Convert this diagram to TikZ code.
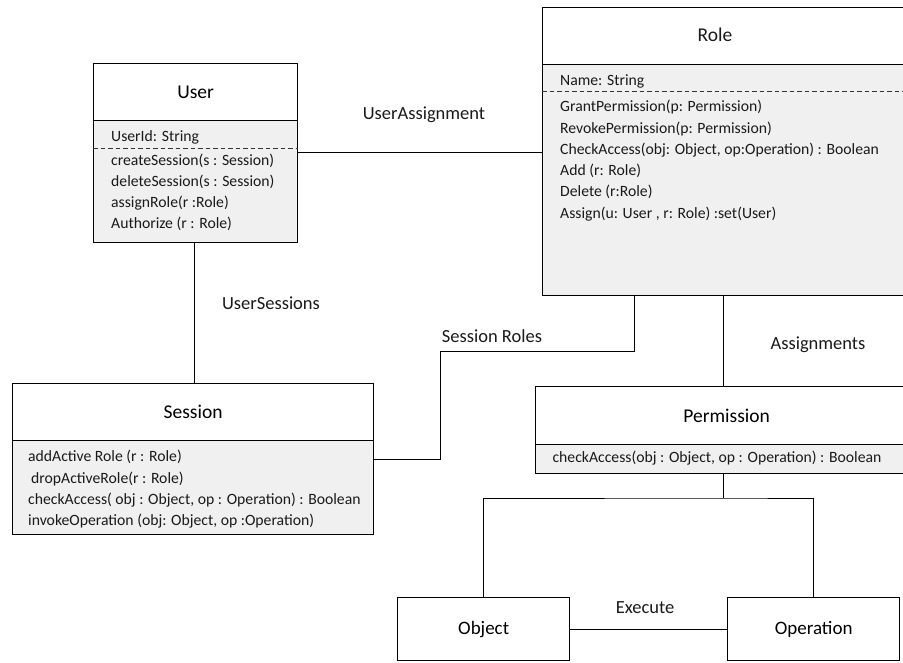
\documentclass[tikz,border=0pt]{standalone}
\usepackage{fontspec}
\setmainfont{Carlito}
\begin{document}
\begin{tikzpicture}[x=1pt,y=-1pt,
  boxline/.style={draw=black, line width=1.3pt, rectangle, inner sep=0pt, anchor=north west},
  hdr/.style={boxline, fill=white, font=\fontsize{19.5}{22}\selectfont},
  cmp/.style={boxline, fill=compfill},
  leaf/.style={boxline, fill=white, font=\fontsize{19}{22}\selectfont},
  txt/.style={inner sep=0pt, anchor=west, text=textcol, font=\fontsize{15.7}{18}\selectfont},
  ttl/.style={inner sep=0pt, text=textcol, font=\fontsize{19.5}{22}\selectfont},
  lbl/.style={inner sep=0pt, text=textcol, font=\fontsize{18.5}{21}\selectfont},
  conn/.style={draw=black, line width=1pt},
  dashline/.style={draw=black!80, line width=1pt, dash pattern=on 4.5pt off 3pt}
]
\definecolor{compfill}{HTML}{F0F0F0}
\definecolor{textcol}{HTML}{1A1A1A}
\useasboundingbox (0,0) rectangle (903,662);
\clip (0,0) rectangle (903,662);
\fill[white] (0,0) rectangle (903,662);

% reference coordinates for connector rows and columns
\coordinate (uaY) at (0,152);
\coordinate (usX) at (194,0);
\coordinate (srY) at (0,459);
\coordinate (srBend) at (440,351);
\coordinate (srX) at (634,0);
\coordinate (asX) at (723,0);
\coordinate (fork) at (723,498);
\coordinate (udY) at (0,148);
\coordinate (rdY) at (0,91);

% ---- User class ----
\node[hdr, minimum width=204pt, minimum height=57pt] (userH) at (93,63) {User};
\node[cmp, minimum width=204pt, minimum height=122pt] (userB) at (93,120) {};
\node[txt] (u0) at (111,137) {UserId: String};
\node[txt] (u1) at (111,161) {createSession(s : Session)};
\node[txt] (u2) at (111,182) {deleteSession(s : Session)};
\node[txt] (u3) at (111,203) {assignRole(r :Role)};
\node[txt] (u4) at (111,224) {Authorize (r : Role)};
\draw[dashline] (userB.west |- udY) -- (userB.east |- udY);

% ---- Role class ----
\node[boxline, fill=white, minimum width=363pt, minimum height=57pt] (roleH) at (542,7) {};
\node[ttl] (roleT) at (715,35) {Role};
\node[cmp, minimum width=363pt, minimum height=231pt] (roleB) at (542,64) {};
\node[txt] (r0) at (560,81) {Name: String};
\node[txt] (r1) at (560,107) {GrantPermission(p: Permission)};
\node[txt] (r2) at (560,129) {RevokePermission(p: Permission)};
\node[txt] (r3) at (560,150) {CheckAccess(obj: Object, op:Operation) : Boolean};
\node[txt] (r4) at (560,171) {Add (r: Role)};
\node[txt] (r5) at (560,192) {Delete (r:Role)};
\node[txt] (r6) at (560,214) {Assign(u: User , r: Role) :set(User)};
\draw[dashline] (roleB.west |- rdY) -- (roleB.east |- rdY);

% ---- Session class ----
\node[hdr, minimum width=361pt, minimum height=57pt] (sessH) at (12,383) {Session};
\node[cmp, minimum width=361pt, minimum height=94pt] (sessB) at (12,440) {};
\node[txt] (s1) at (28,457) {addActive Role (r : Role)};
\node[txt] (s2) at (31,479) {dropActiveRole(r : Role)};
\node[txt] (s3) at (28,500) {checkAccess( obj : Object, op : Operation) : Boolean};
\node[txt] (s4) at (28,521) {invokeOperation (obj: Object, op :Operation)};

% ---- Permission class ----
\node[hdr, minimum width=382pt, minimum height=58pt] (permH) at (535,386) {Permission};
\node[cmp, minimum width=382pt, minimum height=29pt] (permB) at (535,444) {};
\node[txt, anchor=center] (p1) at (717,458) {checkAccess(obj : Object, op : Operation) : Boolean};

% ---- Object and Operation ----
\node[leaf, minimum width=172pt, minimum height=63pt] (objN) at (397,597) {Object};
\node[leaf, minimum width=172pt, minimum height=63pt] (opN) at (727,597) {Operation};

% ---- associations ----
\draw[conn] (userB.east |- uaY) -- (roleB.west |- uaY);
\draw[conn] (userB.south -| usX) -- (sessH.north -| usX);
\draw[conn] (sessB.east |- srY) -| (srBend) -| (roleB.south -| srX);
\draw[conn] (roleB.south -| asX) -- (permH.north -| asX);
\draw[conn] (permB.south -| asX) -- (fork);
\draw[conn] (objN.north) |- (fork) -| (opN.north);
\draw[conn] (objN.east) -- (opN.west);

% ---- association names ----
\node[lbl] (la) at (424,115) {UserAssignment};
\node[lbl] (ls) at (271,303) {UserSessions};
\node[lbl] (lr) at (492,336) {Session Roles};
\node[lbl] (lp) at (818,345) {Assignments};
\node[lbl] (le) at (645,608) {Execute};
\end{tikzpicture}
\end{document}
